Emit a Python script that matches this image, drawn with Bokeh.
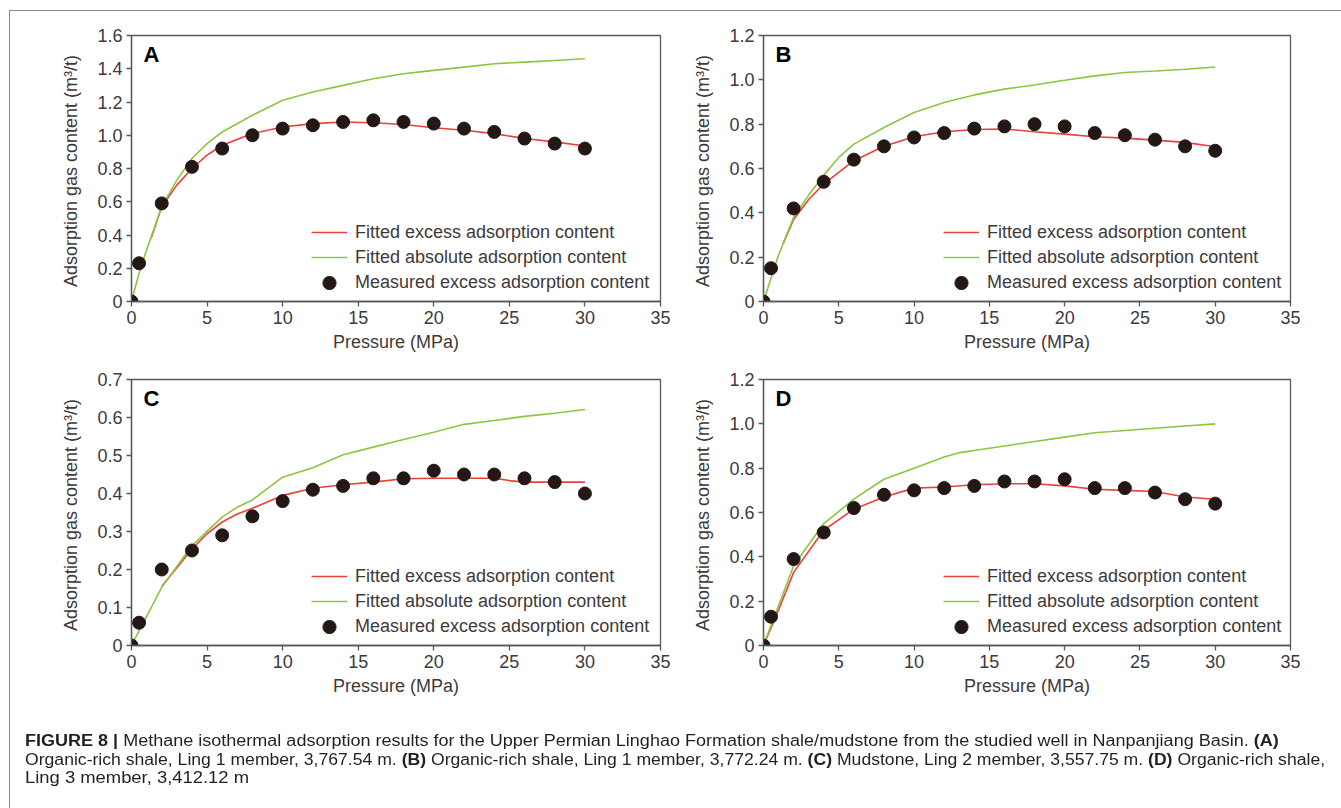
from bokeh.plotting import figure
from bokeh.models import (Legend, LegendItem, Label, FixedTicker, Div, Range1d,
                          PrintfTickFormatter)
from bokeh.layouts import column, row
from bokeh.embed import file_html
from bokeh.resources import INLINE

# ---------------- data ----------------
pressure_pts = [0, 0.5, 2, 4, 6, 8, 10, 12, 14, 16, 18, 20, 22, 24, 26, 28, 30]

A_meas = [0, 0.23, 0.59, 0.81, 0.92, 1.00, 1.04, 1.06, 1.08, 1.09, 1.08, 1.07, 1.04, 1.02, 0.98, 0.95, 0.92]
A_excess_x = [1.3, 2, 3, 4, 5, 6, 8, 10, 12, 14, 16, 18, 20, 22, 24, 26, 28, 30]
A_excess = [0.38, 0.57, 0.70, 0.80, 0.88, 0.94, 1.01, 1.05, 1.07, 1.08, 1.075, 1.065, 1.045, 1.03, 1.01, 0.98, 0.96, 0.935]
A_abs_x = [0, 0.5, 1, 2, 3, 4, 5, 6, 8, 10, 12, 14, 16, 18, 20, 22, 24, 26, 28, 30]
A_abs = [0, 0.17, 0.31, 0.57, 0.73, 0.86, 0.95, 1.02, 1.12, 1.21, 1.26, 1.30, 1.34, 1.37, 1.39, 1.41, 1.43, 1.44, 1.45, 1.46]

B_meas = [0, 0.15, 0.42, 0.54, 0.64, 0.70, 0.74, 0.76, 0.78, 0.79, 0.80, 0.79, 0.76, 0.75, 0.73, 0.70, 0.68]
B_excess_x = [1.3, 2, 3, 4, 6, 8, 10, 12, 14, 16, 18, 20, 22, 24, 26, 28, 30]
B_excess = [0.26, 0.37, 0.46, 0.53, 0.635, 0.70, 0.743, 0.766, 0.776, 0.778, 0.766, 0.755, 0.743, 0.737, 0.728, 0.718, 0.698]
B_abs_x = [0, 1, 2, 3, 4, 5, 6, 8, 10, 12, 14, 16, 18, 20, 22, 24, 26, 28, 30]
B_abs = [0, 0.21, 0.38, 0.48, 0.57, 0.65, 0.71, 0.785, 0.853, 0.898, 0.932, 0.958, 0.977, 0.998, 1.018, 1.033, 1.04, 1.048, 1.058]

C_meas = [0, 0.06, 0.20, 0.25, 0.29, 0.34, 0.38, 0.41, 0.42, 0.44, 0.44, 0.46, 0.45, 0.45, 0.44, 0.43, 0.40]
C_excess_x = [2, 4, 5, 6, 7, 8, 10, 12, 14, 16, 18, 20, 22, 24, 25, 26, 28, 30]
C_excess = [0.155, 0.254, 0.294, 0.325, 0.346, 0.361, 0.395, 0.414, 0.423, 0.43, 0.439, 0.44, 0.44, 0.44, 0.434, 0.43, 0.43, 0.43]
C_abs_x = [0, 2, 4, 6, 7, 8, 10, 12, 14, 16, 18, 20, 22, 24, 26, 28, 30]
C_abs = [0, 0.153, 0.263, 0.338, 0.364, 0.383, 0.443, 0.468, 0.502, 0.522, 0.542, 0.561, 0.582, 0.592, 0.603, 0.611, 0.621]

D_meas = [0, 0.13, 0.39, 0.51, 0.62, 0.68, 0.70, 0.71, 0.72, 0.74, 0.74, 0.75, 0.71, 0.71, 0.69, 0.66, 0.64]
D_excess_x = [0, 1, 2, 4, 6, 8, 10, 12, 14, 16, 18, 20, 22, 24, 26, 28, 30]
D_excess = [0, 0.16, 0.33, 0.52, 0.615, 0.67, 0.71, 0.715, 0.725, 0.73, 0.73, 0.72, 0.705, 0.70, 0.695, 0.67, 0.66]
D_abs_x = [0, 1, 2, 4, 6, 8, 10, 12, 13, 14, 16, 18, 20, 22, 24, 26, 28, 30]
D_abs = [0, 0.18, 0.36, 0.55, 0.66, 0.75, 0.80, 0.85, 0.87, 0.88, 0.90, 0.92, 0.94, 0.96, 0.97, 0.98, 0.99, 1.00]

x_ticks = [0, 5, 10, 15, 20, 25, 30, 35]
legend_labels = ["Fitted excess adsorption content",
                 "Fitted absolute adsorption content",
                 "Measured excess adsorption content"]
x_title = "Pressure (MPa)"
y_title = "Adsorption gas  content (m\u00b3/t)"

caption_line_1 = ("<b>FIGURE 8 |</b> Methane isothermal adsorption results for the Upper Permian "
                  "Linghao Formation shale/mudstone from the studied well in Nanpanjiang Basin. <b>(A)</b>")
caption_line_2 = ("Organic-rich shale, Ling 1 member, 3,767.54 m. <b>(B)</b> Organic-rich shale, Ling 1 member, "
                  "3,772.24 m. <b>(C)</b> Mudstone, Ling 2 member, 3,557.75 m. <b>(D)</b> Organic-rich shale,")
caption_line_3 = "Ling 3 member, 3,412.12 m"

# ---------------- styles ----------------
FONT = "Liberation Sans"
AXIS_COL = "#595757"
TEXT_COL = "#3e3a39"
RED = "#ec4039"
GREEN = "#8cc63f"
DOT = "#231815"


def style_legend(lg, gh):
    lg.border_line_color = None
    lg.background_fill_alpha = 0
    lg.label_text_font = FONT
    lg.label_text_font_size = "18px"
    lg.label_text_color = TEXT_COL
    lg.glyph_width = 36
    lg.glyph_height = gh
    lg.label_height = gh
    lg.spacing = 3
    lg.label_standoff = 8
    lg.padding = 2
    lg.margin = 0


def make_panel(letter, meas, ex_x, ex_y, ab_x, ab_y, ymax, ystep,
               width, height, mbl, mbr, mbt, mbb):
    p = figure(width=width, height=height, output_backend="svg",
               toolbar_location=None, x_range=Range1d(0, 35),
               y_range=Range1d(0, ymax),
               min_border_left=mbl, min_border_right=mbr,
               min_border_top=mbt, min_border_bottom=mbb)
    p.grid.visible = False
    p.outline_line_color = AXIS_COL
    p.outline_line_width = 1.3
    p.background_fill_color = "white"
    p.border_fill_color = None

    n = int(round(ymax / ystep))
    yt = [round(i * ystep, 1) for i in range(n + 1)]
    p.xaxis.ticker = FixedTicker(ticks=x_ticks)
    p.yaxis.ticker = FixedTicker(ticks=yt)
    p.yaxis.formatter = PrintfTickFormatter(format="%.1f")
    p.yaxis.major_label_overrides = {0: "0"}

    for ax in (p.xaxis[0], p.yaxis[0]):
        ax.axis_line_color = AXIS_COL
        ax.axis_line_width = 1.3
        ax.major_tick_line_color = AXIS_COL
        ax.major_tick_line_width = 1.3
        ax.major_tick_out = 5
        ax.major_tick_in = 0
        ax.minor_tick_line_color = None
        ax.major_label_text_font = FONT
        ax.major_label_text_font_size = "18px"
        ax.major_label_text_color = TEXT_COL
        ax.major_label_standoff = 4
        ax.axis_label_text_font = FONT
        ax.axis_label_text_font_size = "18px"
        ax.axis_label_text_font_style = "normal"
        ax.axis_label_text_color = TEXT_COL
    p.xaxis.axis_label = x_title
    p.yaxis.axis_label = y_title
    p.xaxis.axis_label_standoff = 5
    p.yaxis.axis_label_standoff = 13

    r_red = p.line(ex_x, ex_y, line_color=RED, line_width=1.6)
    r_grn = p.line(ab_x, ab_y, line_color=GREEN, line_width=1.6)
    r_dot = p.scatter(pressure_pts, meas, size=13, fill_color=DOT,
                      line_color=DOT, marker="circle")

    lg_lines = Legend(items=[LegendItem(label=legend_labels[0], renderers=[r_red]),
                             LegendItem(label=legend_labels[1], renderers=[r_grn])],
                      location=(180, 33))
    style_legend(lg_lines, 22)
    lg_dot = Legend(items=[LegendItem(label=legend_labels[2], renderers=[r_dot])],
                    location=(180, 2))
    style_legend(lg_dot, 33)
    p.add_layout(lg_lines)
    p.add_layout(lg_dot)

    lab = Label(x=0, y=ymax, x_offset=12, y_offset=-6, text=letter,
                text_font=FONT, text_font_size="22px", text_font_style="bold",
                text_color="#000000", text_baseline="top", text_align="left")
    p.add_layout(lab)
    return p


pA = make_panel("A", A_meas, A_excess_x, A_excess, A_abs_x, A_abs, 1.6, 0.2,
                690, 363, 131, 30, 35, 62)
pB = make_panel("B", B_meas, B_excess_x, B_excess, B_abs_x, B_abs, 1.2, 0.2,
                630, 363, 72, 30, 35, 62)
pC = make_panel("C", C_meas, C_excess_x, C_excess, C_abs_x, C_abs, 0.7, 0.1,
                690, 337, 131, 30, 16, 55)
pD = make_panel("D", D_meas, D_excess_x, D_excess, D_abs_x, D_abs, 1.2, 0.2,
                630, 337, 72, 30, 16, 55)


def line_div(html, sx):
    return ('<div style="transform:scaleX(%.3f); transform-origin:0 0; '
            'white-space:nowrap; height:18.5px;">%s</div>' % (sx, html))


caption_html = (
    '<div style="position:fixed; left:9px; top:10px; width:1500px; height:1000px; '
    'border-left:1px solid #8a8a8a; border-top:1px solid #8a8a8a; '
    'pointer-events:none;"></div>'
    '<div style="font-family:\'Liberation Sans\'; font-size:16px; line-height:18.5px; '
    'color:#231f20;">'
    + line_div(caption_line_1, 1.126)
    + line_div(caption_line_2, 1.100)
    + line_div(caption_line_3, 1.15)
    + '</div>'
)
caption = Div(text=caption_html, width=1150, height=70, margin=(32, 0, 0, 25))

layout = column(row(pA, pB), row(pC, pD), caption)

open("out.html", "w").write(file_html(layout, INLINE))
